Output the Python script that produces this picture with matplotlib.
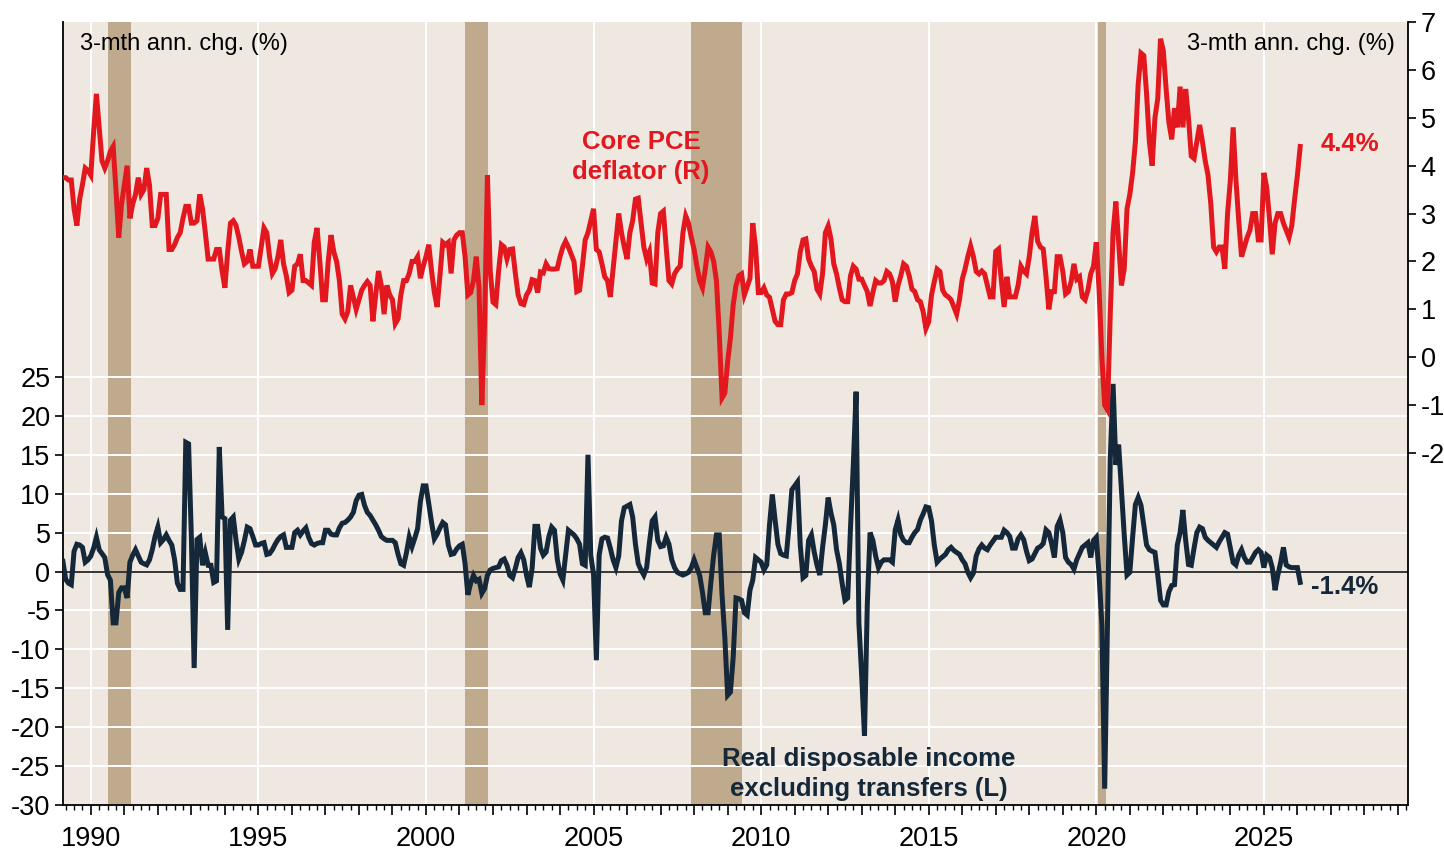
import matplotlib
matplotlib.use("Agg")
import matplotlib.pyplot as plt
import numpy as np
from matplotlib.ticker import MultipleLocator, FuncFormatter

plt.rcParams.update({"font.family": ["Liberation Sans", "DejaVu Sans"],
                     "font.size": 18, "axes.unicode_minus": False})

# monthly readings, Mar 1989 .. Feb 2026 (3-mth annualised % change)
first_year, first_month = 1989, 3

core_pce = [
    3.75, 3.75, 3.7, 3.7, 3.1, 2.75, 3.3, 3.6, 3.95, 3.9,            # 1989 (Mar-)
    3.8, 4.7, 5.5, 4.8, 4.1, 3.95, 4.1, 4.3, 4.4, 3.5, 2.5, 3.2,      # 1990
    3.6, 4.0, 2.9, 3.2, 3.4, 3.75, 3.4, 3.5, 3.95, 3.6, 2.75, 2.75,   # 1991
    2.9, 3.4, 3.4, 3.4, 2.25, 2.25, 2.35, 2.5, 2.6, 2.9, 3.15, 3.15,  # 1992
    2.8, 2.8, 2.85, 3.4, 3.1, 2.6, 2.05, 2.05, 2.05, 2.25, 2.25, 1.8, # 1993
    1.45, 2.2, 2.8, 2.85, 2.75, 2.5, 2.2, 1.95, 2.0, 2.25, 1.9, 1.9,  # 1994
    1.9, 2.3, 2.7, 2.6, 2.1, 1.75, 1.85, 2.1, 2.45, 1.95, 1.7, 1.35,  # 1995
    1.4, 1.9, 1.95, 2.15, 1.6, 1.6, 1.55, 1.5, 2.4, 2.7, 2.0, 1.2,    # 1996
    1.2, 2.0, 2.55, 2.2, 2.0, 1.6, 0.9, 0.8, 0.95, 1.5, 1.25, 1.0,    # 1997
    1.2, 1.4, 1.5, 1.58, 1.5, 0.75, 1.3, 1.8, 1.5, 0.9, 1.5, 1.3,     # 1998
    1.2, 0.7, 0.8, 1.3, 1.6, 1.6, 1.75, 2.0, 2.0, 2.1, 1.65, 1.9,     # 1999
    2.1, 2.35, 1.8, 1.35, 1.05, 1.7, 2.4, 2.35, 2.4, 1.75, 2.45, 2.55,# 2000
    2.6, 2.6, 2.1, 1.3, 1.35, 1.6, 2.1, 1.45, -1.0, 0.75, 3.8, 1.8,   # 2001
    1.15, 1.1, 1.8, 2.35, 2.3, 2.05, 2.25, 2.26, 1.75, 1.3, 1.12, 1.1,# 2002
    1.3, 1.4, 1.62, 1.6, 1.35, 1.78, 1.76, 1.95, 1.85, 1.84, 1.84, 1.85, # 2003
    2.1, 2.3, 2.42, 2.3, 2.15, 2.0, 1.37, 1.4, 1.9, 2.45, 2.6, 2.85,  # 2004
    3.1, 2.25, 2.2, 1.95, 1.68, 1.6, 1.26, 1.84, 2.42, 3.0, 2.6, 2.3, # 2005
    2.05, 2.6, 2.85, 3.3, 3.32, 2.8, 2.3, 2.05, 2.2, 1.55, 1.53, 2.6, # 2006
    3.0, 3.05, 2.3, 1.6, 1.53, 1.74, 1.84, 1.9, 2.6, 2.95, 2.8, 2.5,  # 2007
    2.25, 1.9, 1.6, 1.45, 1.84, 2.3, 2.2, 2.0, 1.6, 0.5, -0.85, -0.75,# 2008
    -0.1, 0.4, 1.1, 1.5, 1.7, 1.74, 1.3, 1.47, 1.65, 2.8, 2.3, 1.35,  # 2009
    1.35, 1.45, 1.3, 1.25, 1.0, 0.75, 0.68, 0.68, 1.2, 1.32, 1.32, 1.35, # 2010
    1.6, 1.74, 2.2, 2.45, 2.47, 2.05, 1.9, 1.79, 1.42, 1.32, 1.75, 2.6,  # 2011
    2.74, 2.47, 1.95, 1.74, 1.45, 1.2, 1.16, 1.16, 1.7, 1.9, 1.84, 1.63, # 2012
    1.63, 1.5, 1.37, 1.07, 1.35, 1.6, 1.55, 1.55, 1.6, 1.79, 1.74, 1.58, # 2013
    1.16, 1.5, 1.7, 1.95, 1.9, 1.7, 1.42, 1.37, 1.2, 1.16, 0.95, 0.6,    # 2014
    0.74, 1.3, 1.58, 1.84, 1.79, 1.4, 1.3, 1.26, 1.2, 1.05, 0.9, 1.2,    # 2015
    1.63, 1.84, 2.1, 2.32, 2.1, 1.79, 1.74, 1.8, 1.74, 1.5, 1.26, 1.26,  # 2016
    2.21, 2.26, 1.6, 1.05, 1.68, 1.26, 1.26, 1.26, 1.5, 1.9, 1.8, 1.74,  # 2017
    2.1, 2.6, 2.95, 2.42, 2.3, 2.26, 1.68, 1.0, 1.37, 1.37, 2.1, 2.1,    # 2018
    1.79, 1.32, 1.37, 1.58, 1.95, 1.63, 1.68, 1.26, 1.2, 1.4, 1.74, 1.9, # 2019
    2.4, 1.4, 0.0, -1.0, -1.1, 0.9, 2.6, 3.25, 2.4, 1.5, 1.85, 3.1,      # 2020
    3.4, 3.85, 4.5, 5.7, 6.35, 6.3, 5.5, 4.5, 4.0, 5.0, 5.4, 6.65,       # 2021
    6.4, 5.6, 4.9, 4.55, 5.2, 4.8, 5.65, 4.8, 5.6, 5.0, 4.2, 4.15,       # 2022
    4.5, 4.85, 4.5, 4.1, 3.8, 3.2, 2.3, 2.2, 2.3, 2.3, 1.85, 3.0,        # 2023
    3.7, 4.8, 3.7, 2.85, 2.1, 2.3, 2.5, 2.65, 3.0, 3.0, 2.45, 2.45,      # 2024
    3.85, 3.55, 2.9, 2.15, 2.8, 3.0, 3.0, 2.8, 2.65, 2.5, 2.75, 3.3,     # 2025
    3.8, 4.4,                                                            # 2026
]

real_income_ex_transfers = [
    1.3, -1.0, -1.5, -1.7, 2.6, 3.5, 3.4, 3.1, 1.2, 1.5,                 # 1989 (Mar-)
    2.0, 3.0, 4.4, 2.8, 2.3, 1.8, -0.4, -1.1, -6.6, -6.6, -2.7, -2.1,    # 1990
    -2.1, -3.4, 1.2, 2.1, 2.8, 2.0, 1.2, 1.0, 0.85, 1.5, 2.8, 4.5,       # 1991
    5.7, 3.7, 4.1, 4.7, 4.0, 3.4, 1.5, -1.5, -2.3, -2.3, 16.6, 16.4,     # 1992
    4.4, -12.4, 4.1, 4.4, 0.8, 2.4, 0.8, 0.8, -1.4, -1.2, 16.0, 7.0,     # 1993
    6.8, -7.5, 6.6, 7.0, 4.0, 1.6, 2.5, 4.0, 5.7, 5.5, 4.5, 3.4,         # 1994
    3.4, 3.6, 3.7, 2.2, 2.3, 2.8, 3.5, 4.1, 4.5, 4.7, 3.1, 3.1,          # 1995
    3.1, 5.0, 5.3, 4.7, 5.2, 5.6, 4.4, 3.6, 3.4, 3.6, 3.7, 3.7,          # 1996
    5.3, 5.3, 4.8, 4.7, 4.7, 5.6, 6.2, 6.3, 6.6, 7.0, 7.6, 9.1,          # 1997
    9.8, 9.9, 8.5, 7.6, 7.2, 6.6, 6.0, 5.3, 4.5, 4.2, 4.0, 4.0,          # 1998
    4.0, 3.7, 2.2, 1.0, 0.8, 2.4, 4.4, 3.2, 4.3, 5.5, 9.0, 11.0,         # 1999
    11.0, 8.7, 6.3, 4.2, 4.8, 5.6, 6.3, 6.0, 3.4, 2.2, 2.3, 2.9,         # 2000
    3.3, 3.5, 1.0, -3.0, -1.5, -0.5, -1.2, -1.0, -2.8, -2.2, -0.5, 0.2,  # 2001
    0.4, 0.5, 0.6, 1.4, 1.6, 0.8, -0.5, -0.8, 0.4, 1.8, 2.4, 1.5,        # 2002
    -0.5, -2.0, 0.4, 5.8, 5.8, 3.0, 2.1, 2.5, 4.5, 5.7, 5.3, 1.6,        # 2003
    -0.3, -1.1, 2.1, 5.3, 5.0, 4.7, 4.2, 3.5, 1.0, 0.8, 15.0, 2.1,       # 2004
    -0.4, -11.4, 2.1, 4.2, 4.4, 4.3, 3.0, 1.5, 0.5, 2.0, 6.5, 8.2,       # 2005
    8.4, 8.6, 7.0, 3.5, 1.0, 0.2, -0.45, 0.5, 3.7, 6.5, 7.0, 4.0,        # 2006
    3.2, 3.3, 4.4, 3.5, 1.5, 0.5, -0.1, -0.3, -0.45, -0.3, -0.1, 0.5,    # 2007
    1.5, 0.5, -0.5, -2.7, -5.3, -5.3, -1.4, 2.1, 4.7, 4.7, -3.0, -8.5,   # 2008
    -15.9, -15.5, -11.0, -3.4, -3.5, -3.7, -5.3, -5.6, -2.4, -1.1, 1.8, 1.5,  # 2009
    1.2, 0.2, 0.84, 6.0, 9.9, 6.6, 3.5, 2.3, 2.1, 2.0, 6.0, 10.5,        # 2010
    11.0, 11.5, 3.4, -0.8, -0.5, 4.0, 4.7, 2.5, 0.8, -0.45, 3.1, 6.0,    # 2011
    9.5, 7.5, 6.0, 2.8, 1.0, -1.5, -3.7, -3.4, 5.7, 13.7, 23.1, -6.6,    # 2012
    -13.4, -21.1, -4.3, 5.0, 4.0, 2.0, 0.5, 1.2, 1.5, 1.5, 1.5, 1.2,     # 2013
    5.35, 6.6, 4.7, 4.0, 3.7, 3.7, 4.4, 5.0, 5.4, 6.6, 7.4, 8.3,         # 2014
    8.2, 6.5, 3.4, 1.2, 1.6, 1.9, 2.2, 2.8, 3.1, 2.7, 2.45, 2.2,         # 2015
    1.5, 1.0, -0.1, -0.8, -0.2, 2.0, 2.9, 3.4, 3.0, 2.8, 3.4, 3.9,       # 2016
    4.4, 4.4, 4.4, 5.3, 5.0, 4.5, 3.0, 3.0, 4.2, 4.7, 4.1, 2.6,          # 2017
    1.4, 1.6, 2.3, 3.0, 3.2, 3.6, 5.35, 5.0, 3.6, 1.8, 5.8, 6.6,         # 2018
    5.0, 1.8, 1.2, 0.9, 0.3, 1.5, 2.3, 3.1, 3.4, 3.7, 1.8, 4.0,          # 2019
    4.4, -0.45, -6.9, -27.9, -6.9, 14.4, 24.1, 13.7, 16.3, 10.5, 4.7, -0.45,  # 2020
    -0.1, 4.4, 8.6, 9.5, 8.5, 6.0, 3.4, 2.8, 2.6, 2.45, -0.45, -3.7,     # 2021
    -4.3, -4.3, -2.6, -1.8, -1.7, 3.4, 5.0, 7.9, 4.0, 0.9, 0.8, 3.0,     # 2022
    5.0, 5.7, 5.5, 4.4, 4.0, 3.7, 3.4, 3.1, 3.8, 4.4, 5.0, 4.8,          # 2023
    3.0, 1.16, 0.84, 2.1, 2.8, 1.8, 1.2, 1.2, 1.8, 2.45, 2.8, 2.45,      # 2024
    0.5, 2.1, 1.8, 0.5, -2.4, -0.45, 1.16, 3.1, 0.84, 0.6, 0.5, 0.5,     # 2025
    0.5, -1.4,                                                           # 2026
]

# US recessions (decimal years)
recessions = [(1990.5, 1991.2), (2001.17, 2001.85), (2007.9, 2009.43), (2020.05, 2020.3)]

left_ticks = list(range(-30, 30, 5))
right_ticks = list(range(-2, 8))
grid_years = list(range(1990, 2030, 5))

BG = "#EEE8E1"
BAND = "#BFAA8E"
RED = "#E3181F"
NAVY = "#15283A"
TICK_FS = 19.5


def month_axis(series):
    return first_year + (first_month - 1 + np.arange(len(series))) / 12.0


fig = plt.figure(figsize=(14.44, 8.52), dpi=100)
ax = fig.add_axes([63 / 1444, 47 / 852, 1345 / 1444, 783 / 852])
ax.set_facecolor(BG)

for a, b in recessions:
    ax.axvspan(a, b, color=BAND, lw=0, zorder=1)
for yv in left_ticks[1:]:
    ax.axhline(yv, color="white", lw=1.4, zorder=2)
for yr in grid_years:
    ax.axvline(yr, color="white", lw=1.4, zorder=2)
ax.axhline(0, color="black", lw=1.1, zorder=3)

ax.plot(month_axis(real_income_ex_transfers), real_income_ex_transfers,
        color=NAVY, lw=3.6, zorder=5, solid_joinstyle="miter")

ax.set_xlim(1989.17, 2029.3)
ax.set_ylim(-30, 70.6)
ax.set_yticks(left_ticks)
ax.xaxis.set_major_locator(MultipleLocator(1))
ax.xaxis.set_minor_locator(MultipleLocator(0.25))
ax.xaxis.set_major_formatter(FuncFormatter(
    lambda v, p: f"{int(round(v))}" if int(round(v)) % 5 == 0 else ""))
ax.tick_params(axis="x", which="major", length=7, width=1.2, labelsize=TICK_FS, pad=8)
ax.tick_params(axis="x", which="minor", length=3.5, width=1.0)
ax.tick_params(axis="y", length=6, width=1.2, labelsize=TICK_FS, pad=3)
for s in ["left", "bottom"]:
    ax.spines[s].set_linewidth(1.3)
ax.spines["top"].set_visible(False)
ax.spines["right"].set_visible(False)

ax2 = ax.twinx()
ax2.plot(month_axis(core_pce), core_pce, color=RED, lw=3.6, zorder=5,
         solid_joinstyle="miter")
ax2.set_ylim(-9.35, 7)
ax2.set_yticks(right_ticks)
ax2.tick_params(axis="y", length=6, width=1.2, labelsize=TICK_FS, pad=3)
ax2.spines["right"].set_linewidth(1.3)
ax2.spines["top"].set_visible(False)
ax2.spines["left"].set_visible(False)
ax2.spines["bottom"].set_visible(False)

ax.text(0.0126, 0.972, "3-mth ann. chg. (%)", transform=ax.transAxes,
        ha="left", va="center", fontsize=17)
ax.text(0.990, 0.972, "3-mth ann. chg. (%)", transform=ax.transAxes,
        ha="right", va="center", fontsize=17)

ax2.text(2006.42, 4.18, "Core PCE\ndeflator (R)", color=RED, fontsize=18.5,
         fontweight="bold", ha="center", va="center", linespacing=1.3)
ax2.text(2026.7, core_pce[-1] + 0.05, f"{core_pce[-1]:.1f}%", color=RED,
         fontsize=18.5, fontweight="bold", ha="left", va="center")
ax.text(2013.2, -26.0, "Real disposable income\nexcluding transfers (L)",
        color=NAVY, fontsize=18.5, fontweight="bold", ha="center", va="center",
        linespacing=1.3)
ax.text(2026.4, -2.0, f"{real_income_ex_transfers[-1]:.1f}%", color=NAVY,
        fontsize=18.5, fontweight="bold", ha="left", va="center")

fig.savefig("out.png", dpi=100, facecolor="white")
